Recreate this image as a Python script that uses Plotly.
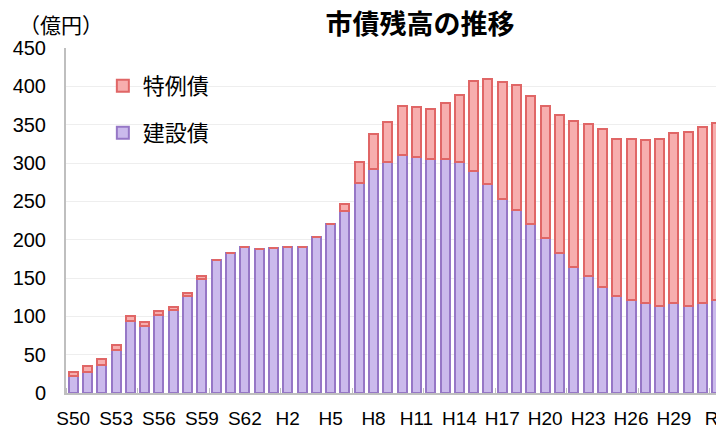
import plotly.graph_objects as go

# Fiscal years (Showa S50 .. Reiwa R2)
years = (["S%d" % y for y in range(50, 64)]
         + ["H%d" % y for y in range(1, 31)]
         + ["R1", "R2"])

# 建設債 (construction bonds), 億円
construction = [22, 28, 37, 56, 94, 87, 102, 108, 127, 149,
                174, 183, 191, 188,
                189, 190, 191, 204, 221,
                237, 274, 292, 301, 311,
                308, 305, 305, 301, 290,
                272, 253, 239, 220, 202,
                183, 164, 152, 138, 126,
                121, 117, 114, 117, 114,
                118, 121]

# 特例債 (special deficit-covering bonds), 億円
special = [6, 7, 7, 7, 6, 6, 5, 4, 4, 3,
           0, 0, 0, 0,
           0, 0, 0, 0, 0,
           10, 27, 46, 53, 63,
           65, 66, 73, 88, 117,
           138, 153, 163, 167, 172,
           179, 191, 199, 206, 205,
           210, 213, 217, 222, 227,
           229, 231]

y_ticks = [0, 50, 100, 150, 200, 250, 300, 350, 400, 450]
label_every = 3
minor_every = 5

pos = list(range(len(years)))
tick_pos = pos[::label_every]
tick_text = years[::label_every]
minor_pos = [p - 0.5 for p in pos[::minor_every]]

LAT = "Liberation Sans, Arial, sans-serif"
CJK = "Noto Sans CJK JP, sans-serif"

fig = go.Figure()
fig.add_trace(go.Bar(
    x=pos, y=construction, name="建設債", legendgroup="b", legendrank=2,
    marker=dict(color="#cbbaec", line=dict(color="#9677c6", width=2)),
))
fig.add_trace(go.Bar(
    x=pos, y=special, name="特例債", legendgroup="a", legendrank=1,
    marker=dict(color="#f7aeae", line=dict(color="#e06666", width=2)),
))

fig.update_layout(
    width=724, height=428,
    margin=dict(l=58, r=8, t=40, b=43),
    paper_bgcolor="white", plot_bgcolor="white",
    barmode="stack", bargap=0.37,
    title=dict(text="<b>市債残高の推移</b>", x=0.569, xanchor="center",
               y=1 - 17 / 428, yanchor="middle", yref="container",
               font=dict(family=CJK, size=27, color="black")),
    legend=dict(x=0.056, y=0.951, xanchor="left", yanchor="top",
                traceorder="grouped", tracegroupgap=15.5,
                font=dict(family=CJK, size=22, color="black"),
                bgcolor="rgba(0,0,0,0)"),
    xaxis=dict(range=[-0.5, len(years) - 0.5], tickmode="array",
               tickvals=tick_pos, ticktext=tick_text, ticks="",
               automargin=False,
               showgrid=False, showline=True, linecolor="#bfbfbf", linewidth=2,
               tickfont=dict(family=LAT, size=19, color="black"),
               ticklabelstandoff=7,
               minor=dict(tickmode="array", tickvals=minor_pos, ticks="inside",
                          ticklen=5, tickcolor="#bfbfbf", tickwidth=1, showgrid=False)),
    yaxis=dict(range=[0, 450], tickmode="array", tickvals=y_ticks, ticks="",
               automargin=False,
               showgrid=True, gridcolor="#eeeeee", gridwidth=1,
               showline=True, linecolor="#bfbfbf", linewidth=2,
               zeroline=False,
               tickfont=dict(family=LAT, size=20, color="black"),
               ticklabelstandoff=14),
    annotations=[dict(text="（億円）", xref="paper", yref="paper",
                      x=(17 - 66) / 658, y=1 + 24 / 345, xanchor="left", yanchor="middle",
                      showarrow=False, font=dict(family=CJK, size=21, color="black"))],
)

fig.write_html("out.html")
